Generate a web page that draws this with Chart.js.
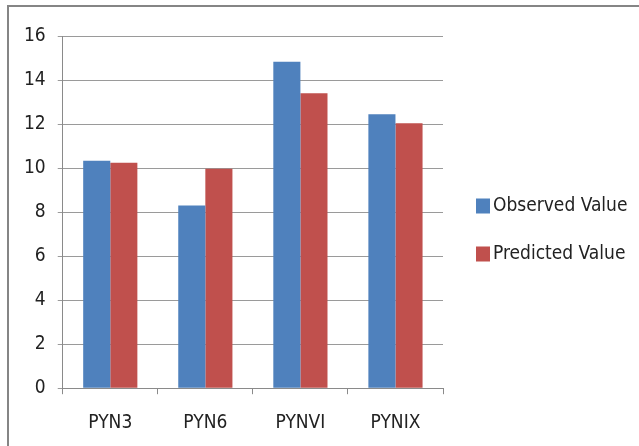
<!DOCTYPE html>
<html>
<head>
<meta charset="utf-8">
<script src="https://cdn.jsdelivr.net/npm/chart.js@4/dist/chart.umd.min.js"></script>
<style>
  body { margin: 0; background: #fff; }
  .frame {
    position: absolute; left: 7px; top: 5px; width: 640px; height: 450px;
    border-top: 2px solid #858585; border-left: 2px solid #858585;
  }
  .wrap { position: absolute; left: 0; top: 0; width: 639px; height: 446px; }
</style>
</head>
<body>
<div class="frame"></div>
<div class="wrap"><canvas id="chart"></canvas></div>
<script>
var categories = ['PYN3', 'PYN6', 'PYNVI', 'PYNIX'];
var observed = [10.33, 8.3, 14.83, 12.45];
var predicted = [10.24, 9.97, 13.4, 12.04];
var yTicks = [0, 2, 4, 6, 8, 10, 12, 14, 16];

var font = "'DejaVu Sans Condensed', 'DejaVu Sans', sans-serif";
Chart.defaults.font.family = font;
Chart.defaults.color = '#222';

// legend at the right, drawn from the datasets
var sideLegend = {
    id: 'sideLegend',
    afterDraw: function (chart) {
        var c = chart.ctx;
        c.save();
        c.font = '19px ' + font;
        c.textBaseline = 'middle';
        chart.data.datasets.forEach(function (ds, i) {
            var cy = 206 + i * 48;
            c.fillStyle = ds.backgroundColor;
            c.fillRect(476, cy - 7.5, 14, 15);
            c.fillStyle = '#222';
            c.fillText(ds.label, 493, cy);
        });
        c.restore();
    }
};

var ctx = document.getElementById('chart').getContext('2d');
new Chart(ctx, {
    type: 'bar',
    data: {
        labels: categories,
        datasets: [
            { label: 'Observed Value', data: observed, backgroundColor: '#4F81BD' },
            { label: 'Predicted Value', data: predicted, backgroundColor: '#C0504D' }
        ]
    },
    options: {
        responsive: true,
        maintainAspectRatio: false,
        animation: false,
        categoryPercentage: 0.57,
        barPercentage: 1.0,
        layout: { padding: { left: 12, top: 36, right: 196, bottom: -5 } },
        plugins: {
            tooltip: { enabled: false },
            legend: { display: false }
        },
        scales: {
            x: {
                grid: { drawOnChartArea: false, color: '#8a8a8a', tickLength: 6, offset: true },
                border: { color: '#8a8a8a' },
                ticks: { font: { size: 19 }, padding: 17 }
            },
            y: {
                min: 0,
                max: 16,
                afterBuildTicks: function (axis) {
                    axis.ticks = yTicks.map(function (v) { return { value: v }; });
                },
                grid: { color: '#9a9a9a', tickLength: 5 },
                border: { color: '#8a8a8a' },
                ticks: { font: { size: 19 }, padding: 12 }
            }
        }
    },
    plugins: [sideLegend]
});
</script>
</body>
</html>
